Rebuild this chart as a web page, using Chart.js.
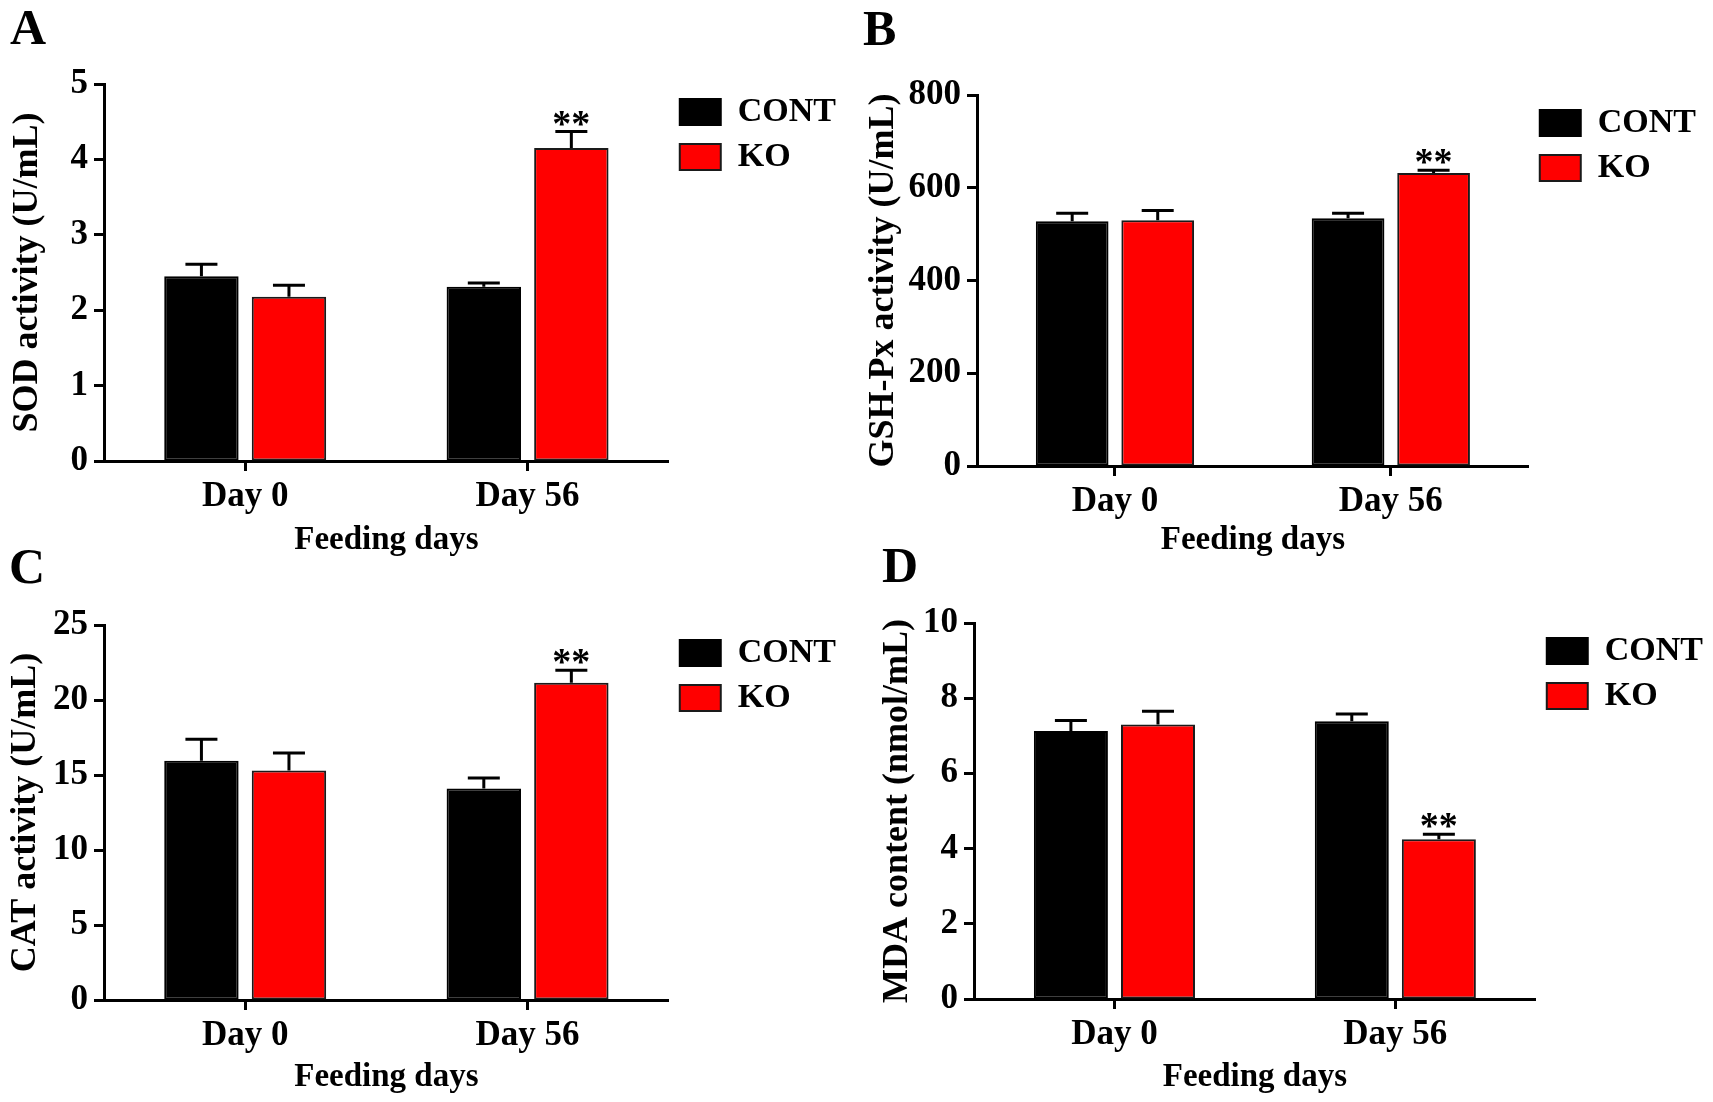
<!DOCTYPE html>
<html>
<head>
<meta charset="utf-8">
<title>Antioxidant indices</title>
<script src="https://cdn.jsdelivr.net/npm/chart.js@4.4.1/dist/chart.umd.min.js"></script>
<style>
  html, body { margin: 0; padding: 0; background: #fff; }
  #page { position: relative; width: 1713px; height: 1102px; overflow: hidden; background: #fff; }
  .panel { position: absolute; }
  .letter {
    position: absolute;
    font-family: 'Liberation Serif', 'Times New Roman', serif;
    font-weight: bold;
    font-size: 50px;
    line-height: 1;
    color: #000;
  }
</style>
</head>
<body>
<div id="page">
  <canvas id="chart-a" class="panel" width="856" height="575" style="left:0px;top:0px"></canvas>
  <canvas id="chart-b" class="panel" width="857" height="575" style="left:856px;top:0px"></canvas>
  <canvas id="chart-c" class="panel" width="856" height="562" style="left:0px;top:540px"></canvas>
  <canvas id="chart-d" class="panel" width="857" height="562" style="left:856px;top:540px"></canvas>
  <div class="letter" style="left:10px;top:2px">A</div>
  <div class="letter" style="left:863px;top:3px">B</div>
  <div class="letter" style="left:9px;top:541px">C</div>
  <div class="letter" style="left:882px;top:540px">D</div>
</div>

<script>
// ==================== DADOS ====================

const groups = ['Day 0', 'Day 56'];
const seriesNames = ['CONT', 'KO'];

// SOD activity (U/mL)
const sodCont = [2.45, 2.31];
const sodContErr = [0.16, 0.05];
const sodKo = [2.18, 4.15];
const sodKoErr = [0.15, 0.22];
const sodSig = ['', '**'];

// GSH-Px activity (U/mL)
const gshCont = [528, 534];
const gshContErr = [17, 11];
const gshKo = [530, 632];
const gshKoErr = [21, 6];
const gshSig = ['', '**'];

// CAT activity (U/mL)
const catCont = [15.95, 14.1];
const catContErr = [1.43, 0.7];
const catKo = [15.3, 21.15];
const catKoErr = [1.17, 0.84];
const catSig = ['', '**'];

// MDA content (nmol/mL)
const mdaCont = [7.13, 7.39];
const mdaContErr = [0.28, 0.19];
const mdaKo = [7.3, 4.25];
const mdaKoErr = [0.35, 0.13];
const mdaSig = ['', '**'];

// ==================== ESTILO ====================

const FONT = "'Liberation Serif', 'Times New Roman', serif";
const contColor = '#000000';
const koColor = '#ff0000';

// error bars (upper whisker only) + significance stars
const errorBarPlugin = {
  id: 'errorBars',
  afterDatasetsDraw(chart) {
    const ctx = chart.ctx;
    const yScale = chart.scales.y;
    chart.data.datasets.forEach((ds, d) => {
      const meta = chart.getDatasetMeta(d);
      meta.data.forEach((bar, i) => {
        const top = yScale.getPixelForValue(ds.data[i] + ds.errors[i]);
        ctx.save();
        ctx.strokeStyle = '#000';
        ctx.lineWidth = 3;
        ctx.beginPath();
        ctx.moveTo(bar.x, bar.y);
        ctx.lineTo(bar.x, top);
        ctx.moveTo(bar.x - 16, top);
        ctx.lineTo(bar.x + 16, top);
        ctx.stroke();
        if (ds.sig && ds.sig[i]) {
          ctx.fillStyle = '#000';
          ctx.font = 'bold 38px ' + FONT;
          ctx.textAlign = 'center';
          ctx.textBaseline = 'alphabetic';
          ctx.fillText(ds.sig[i], bar.x, top + 4);
        }
        ctx.restore();
      });
    });
  }
};

function makePanel(id, p) {
  const ctx = document.getElementById(id).getContext('2d');
  return new Chart(ctx, {
    type: 'bar',
    data: {
      labels: groups,
      datasets: [
        {
          label: seriesNames[0],
          data: p.cont,
          errors: p.contErr,
          backgroundColor: contColor,
          borderColor: '#000',
          borderWidth: 2,
          borderSkipped: false,
          barPercentage: 0.85,
          categoryPercentage: 0.62
        },
        {
          label: seriesNames[1],
          data: p.ko,
          errors: p.koErr,
          sig: p.sig,
          backgroundColor: koColor,
          borderColor: '#1a1a1a',
          borderWidth: 2,
          borderSkipped: false,
          barPercentage: 0.85,
          categoryPercentage: 0.62
        }
      ]
    },
    options: {
      responsive: false,
      animation: false,
      devicePixelRatio: 1,
      layout: {
        padding: { top: p.padTop, right: p.padRight, bottom: 0, left: 0 }
      },
      plugins: {
        tooltip: { enabled: false },
        legend: {
          position: 'right',
          align: 'start',
          fullSize: false,
          labels: {
            color: '#000',
            boxWidth: 41,
            boxHeight: 26,
            padding: 11,
            font: { family: FONT, size: 34, weight: 'bold' }
          }
        }
      },
      scales: {
        x: {
          offset: true,
          afterFit(scale) { scale.height = p.xHeight; },
          border: { display: true, color: '#000', width: 3 },
          grid: {
            offset: false,
            drawOnChartArea: false,
            drawTicks: true,
            tickLength: 10,
            tickWidth: 3,
            tickColor: '#000'
          },
          ticks: {
            color: '#000',
            padding: 5,
            font: { family: FONT, size: 35, weight: 'bold' }
          },
          title: {
            display: true,
            text: 'Feeding days',
            color: '#000',
            padding: { top: 0, bottom: p.xTitlePad },
            font: { family: FONT, size: 33, weight: 'bold' }
          }
        },
        y: {
          min: 0,
          max: p.max,
          afterFit(scale) { scale.width = p.yWidth; },
          border: { display: true, color: '#000', width: 3 },
          grid: {
            drawOnChartArea: false,
            drawTicks: true,
            tickLength: 10,
            tickWidth: 3,
            tickColor: '#000'
          },
          ticks: {
            stepSize: p.step,
            color: '#000',
            padding: 6,
            font: { family: FONT, size: 35, weight: 'bold' }
          },
          title: {
            display: true,
            text: p.title,
            color: '#000',
            padding: { top: p.yTitlePad, bottom: 0 },
            font: { family: FONT, size: 36, weight: 'bold' }
          }
        }
      }
    },
    plugins: [errorBarPlugin]
  });
}

makePanel('chart-a', {
  cont: sodCont, contErr: sodContErr, ko: sodKo, koErr: sodKoErr, sig: sodSig,
  title: 'SOD activity (U/mL)', max: 5, step: 1,
  padTop: 84, padRight: 10, yWidth: 104, xHeight: 114, xTitlePad: 15, yTitlePad: 6
});

makePanel('chart-b', {
  cont: gshCont, contErr: gshContErr, ko: gshKo, koErr: gshKoErr, sig: gshSig,
  title: 'GSH-Px activity (U/mL)', max: 800, step: 200,
  padTop: 95, padRight: 7, yWidth: 121, xHeight: 109, xTitlePad: 15, yTitlePad: 6
});

makePanel('chart-c', {
  cont: catCont, contErr: catContErr, ko: catKo, koErr: catKoErr, sig: catSig,
  title: 'CAT activity (U/mL)', max: 25, step: 5,
  padTop: 85, padRight: 10, yWidth: 104, xHeight: 102, xTitlePad: 5, yTitlePad: 4
});

makePanel('chart-d', {
  cont: mdaCont, contErr: mdaContErr, ko: mdaKo, koErr: mdaKoErr, sig: mdaSig,
  title: 'MDA content (nmol/mL)', max: 10, step: 2,
  padTop: 83, padRight: 0, yWidth: 118, xHeight: 103, xTitlePad: 5, yTitlePad: 20
});
</script>
</body>
</html>
